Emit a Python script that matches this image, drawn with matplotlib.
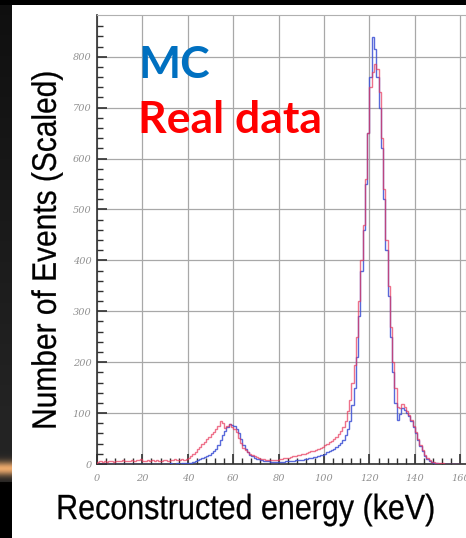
import numpy as np
import matplotlib.pyplot as plt
from matplotlib.patches import Rectangle, PathPatch
from matplotlib.textpath import TextPath
from matplotlib.font_manager import FontProperties
from matplotlib.transforms import Affine2D, IdentityTransform

# 1 keV bins from 0 to 160 keV
edges = np.arange(0, 161, 1)

real_data = [4, 5, 3, 6, 4, 5, 6, 4, 5, 6, 5, 7, 6, 5, 6, 7, 6, 8, 7, 9,
             6, 5, 7, 6, 8, 6, 7, 5, 6, 8, 7, 6, 8, 7, 9, 8, 7, 9, 8, 10,
             12, 16, 20, 24, 30, 34, 40, 44, 50, 54, 58, 62, 68, 74, 84, 80, 70, 74, 78, 72,
             68, 62, 52, 42, 32, 28, 24, 20, 17, 15, 13, 12, 10, 9, 8, 8, 7, 7, 8, 8,
             9, 10, 11, 11, 12, 14, 15, 16, 17, 18, 19, 20, 22, 23, 25, 26, 28, 30, 32, 34,
             37, 40, 43, 46, 50, 54, 58, 64, 72, 85, 105, 125, 160, 195, 250, 320, 400, 470, 560, 650,
             740, 770, 785, 775, 730, 640, 540, 440, 350, 270, 200, 150, 112, 110, 118, 112, 104, 96, 86, 74,
             62, 50, 38, 28, 18, 12, 7, 4, 3, 2, 1, 1, 1, 0, 0, 0, 0, 0, 0, 0]

mc = [0, 0, 0, 0, 0, 0, 0, 0, 0, 0, 0, 0, 0, 0, 0, 0, 0, 0, 0, 0,
      0, 0, 0, 0, 0, 0, 0, 0, 0, 0, 0, 0, 1, 0, 0, 1, 0, 1, 1, 1,
      1, 2, 3, 5, 7, 9, 11, 13, 15, 18, 22, 26, 30, 38, 48, 56, 64, 72, 78, 76,
      74, 68, 60, 50, 38, 30, 24, 18, 15, 12, 10, 9, 7, 6, 5, 5, 4, 4, 3, 3,
      4, 4, 4, 5, 5, 6, 6, 7, 7, 8, 8, 9, 10, 11, 12, 13, 14, 15, 17, 18,
      20, 23, 26, 28, 30, 33, 37, 42, 48, 56, 68, 85, 115, 150, 210, 290, 380, 460, 550, 650,
      760, 838, 815, 760, 700, 620, 520, 420, 330, 250, 180, 120, 86, 98, 110, 106, 100, 94, 84, 72,
      60, 48, 36, 26, 16, 10, 6, 3, 2, 1, 0, 0, 0, 0, 0, 0, 0, 0, 0, 0]

x_ticks = [0, 20, 40, 60, 80, 100, 120, 140, 160]
y_ticks = [0, 100, 200, 300, 400, 500, 600, 700, 800]

W, H = 466, 538
fig = plt.figure(figsize=(W / 100, H / 100), dpi=100, facecolor='white')


def narrow_text(s, cx, cy, size, squeeze, rotate=0):
    # draw text as a path so it can be squeezed horizontally (narrow sans look)
    tp = TextPath((0, 0), s, size=size, prop=FontProperties(family='Liberation Sans'))
    bb = tp.get_extents()
    tr = (Affine2D().translate(-(bb.x0 + bb.x1) / 2, -(bb.y0 + bb.y1) / 2)
          .scale(squeeze, 1).rotate_deg(rotate).translate(cx, H - cy))
    fig.add_artist(PathPatch(tr.transform_path(tp), transform=IdentityTransform(),
                             facecolor='black', edgecolor='black', lw=0.2))


# dark slide border on the left with a gold glow, and on top
strip = np.zeros((H, 1, 3))
rows = np.arange(H)
base = 0.06 + 0.08 * np.clip(rows / 420, 0, 1)
glow = np.exp(-((rows - 468) / 7.0) ** 2)
strip[:, 0, 0] = base * (rows < 482) + 0.78 * glow
strip[:, 0, 1] = base * (rows < 482) + 0.52 * glow
strip[:, 0, 2] = base * (rows < 482) + 0.28 * glow
strip = np.clip(strip, 0, 1)
sax = fig.add_axes([0, 0, 12 / W, 1])
sax.imshow(strip, aspect='auto', interpolation='bilinear')
sax.set_axis_off()
fig.patches.append(Rectangle((0, 1 - 5 / H), 1, 5 / H, transform=fig.transFigure,
                             facecolor='black', edgecolor='none', zorder=5))

ax = fig.add_axes([97 / W, 74 / H, (W - 97) / W, 449 / H])
ax.stairs(mc, edges, color='#3b4fd4', lw=1.0, alpha=0.85, zorder=3)
ax.stairs(real_data, edges, color='#e8365a', lw=1.0, alpha=0.7, zorder=4)

ax.set_xlim(0, 162.5)
ax.set_ylim(0, 882)
ax.set_xticks(x_ticks)
ax.set_yticks(y_ticks)
ax.set_xticks(np.arange(0, 164, 4), minor=True)
ax.set_yticks(np.arange(0, 880, 20), minor=True)
ax.grid(True, which='major', color='#a8a8a8', lw=0.9)
ax.tick_params(which='major', direction='in', length=7, width=1.2, color='#303030',
               labelsize=7, labelcolor='#909090', pad=4)
ax.tick_params(axis='x', which='major', pad=7)
ax.tick_params(which='minor', direction='in', length=4, width=1.0, color='#303030')
for lab in ax.get_xticklabels() + ax.get_yticklabels():
    lab.set_family('DejaVu Serif')
    lab.set_style('italic')
for side in ['top', 'right']:
    ax.spines[side].set_color('#b0b0b0')
for side in ['left', 'bottom']:
    ax.spines[side].set_color('#303030')
    ax.spines[side].set_linewidth(1.2)

narrow_text('Reconstructed energy (keV)', 246, 510, 35, 0.87)
narrow_text('Number of Events (Scaled)', 47, 250, 34, 0.88, rotate=90)

fig.text(138 / W, 1 - 78 / H, 'MC', ha='left', va='baseline', fontsize=32,
         family='Lato', weight='bold', color='#0070C0')
fig.text(138 / W, 1 - 133 / H, 'Real data', ha='left', va='baseline', fontsize=32,
         family='Lato', weight='bold', color='#FF0000')

fig.savefig('out.png', dpi=100, facecolor='white')
